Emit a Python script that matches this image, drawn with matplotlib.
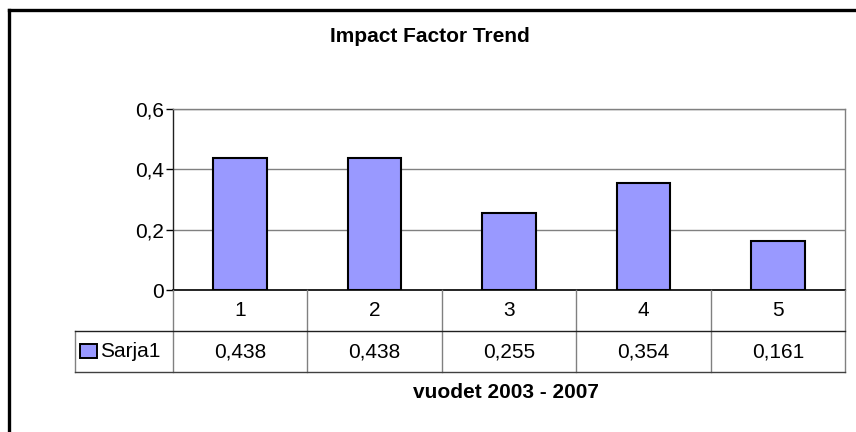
import matplotlib
matplotlib.use("Agg")
import matplotlib.pyplot as plt
from matplotlib.patches import Rectangle
from matplotlib.lines import Line2D

categories = ["1", "2", "3", "4", "5"]
values = [0.438, 0.438, 0.255, 0.354, 0.161]
series_name = "Sarja1"
yticks = [0, 0.2, 0.4, 0.6]
title = "Impact Factor Trend"
xlabel = "vuodet 2003 - 2007"

W, H = 856, 432
plt.rcParams["font.family"] = ["Liberation Sans", "DejaVu Sans"]

fig = plt.figure(figsize=(W / 100, H / 100), dpi=100)


def box(x0, y0, x1, y1):
    # pixel coords (top-left origin) -> figure fraction
    return [x0 / W, 1 - y1 / H, (x1 - x0) / W, (y1 - y0) / H]


bar_color = "#9999FF"
grid_grey = "#808080"
fs = 15

# outer chart frame (open at right/bottom like the crop)
fig.add_artist(Line2D([9 / W, 1.0], [1 - 10 / H, 1 - 10 / H], color="black", lw=2.4,
                      transform=fig.transFigure))
fig.add_artist(Line2D([9 / W, 9 / W], [0.0, 1 - 10 / H], color="black", lw=2.4,
                      transform=fig.transFigure))

ax = fig.add_axes(box(173, 109, 845, 290))
x = list(range(len(categories)))
ax.bar(x, values, width=0.4, color=bar_color, edgecolor="black", linewidth=1.5, zorder=3)
ax.set_xlim(-0.5, len(categories) - 0.5)
ax.set_ylim(0, 0.6)
ax.set_yticks(yticks)
ax.set_yticklabels([("%g" % v).replace(".", ",") for v in yticks], fontsize=fs)
ax.set_xticks([])
ax.yaxis.grid(True, color=grid_grey, lw=1.0, zorder=0)
ax.tick_params(axis="y", length=5, width=1.0, pad=1.5, color="black")
for s in ["top", "right"]:
    ax.spines[s].set_color(grid_grey)
    ax.spines[s].set_linewidth(1.0)
ax.spines["left"].set_color("#202020")
ax.spines["left"].set_linewidth(1.0)
ax.spines["bottom"].set_color("black")
ax.spines["bottom"].set_linewidth(1.2)
ax.spines["bottom"].set_zorder(4)

# data table under the plot
leg_w = 98 / 134.4  # width of legend column in category units
tab = fig.add_axes(box(75, 290, 845, 372))
tab.set_xlim(-0.5 - leg_w, len(categories) - 0.5)
tab.set_ylim(0, 2)
tab.axis("off")
xl, xr = -0.5 - leg_w, len(categories) - 0.5
for i in range(len(categories) + 1):
    tab.plot([i - 0.5, i - 0.5], [0, 2], color=grid_grey, lw=1.0, clip_on=False)
tab.plot([xl, xl], [0, 1], color=grid_grey, lw=1.0, clip_on=False)
tab.plot([xl, xr], [1, 1], color="#202020", lw=1.0, clip_on=False)
tab.plot([xl, xr], [0, 0], color="#404040", lw=1.0, clip_on=False)
for i, (c, v) in enumerate(zip(categories, values)):
    tab.text(i, 1.5, c, ha="center", va="center", fontsize=fs)
    tab.text(i, 0.5, ("%.3f" % v).replace(".", ","), ha="center", va="center", fontsize=fs)
tab.add_patch(Rectangle((xl + 0.04, 0.33), 0.12, 0.36, facecolor=bar_color,
                        edgecolor="black", lw=1.4, clip_on=False))
tab.text(xl + 0.19, 0.5, series_name, ha="left", va="center", fontsize=fs)

fig.text(430 / W, 1 - 37 / H, title, ha="center", va="center", fontsize=fs, fontweight="bold")
fig.text(506 / W, 1 - 392 / H, xlabel, ha="center", va="center", fontsize=fs, fontweight="bold")

fig.savefig("out.png", dpi=100, facecolor="white")
